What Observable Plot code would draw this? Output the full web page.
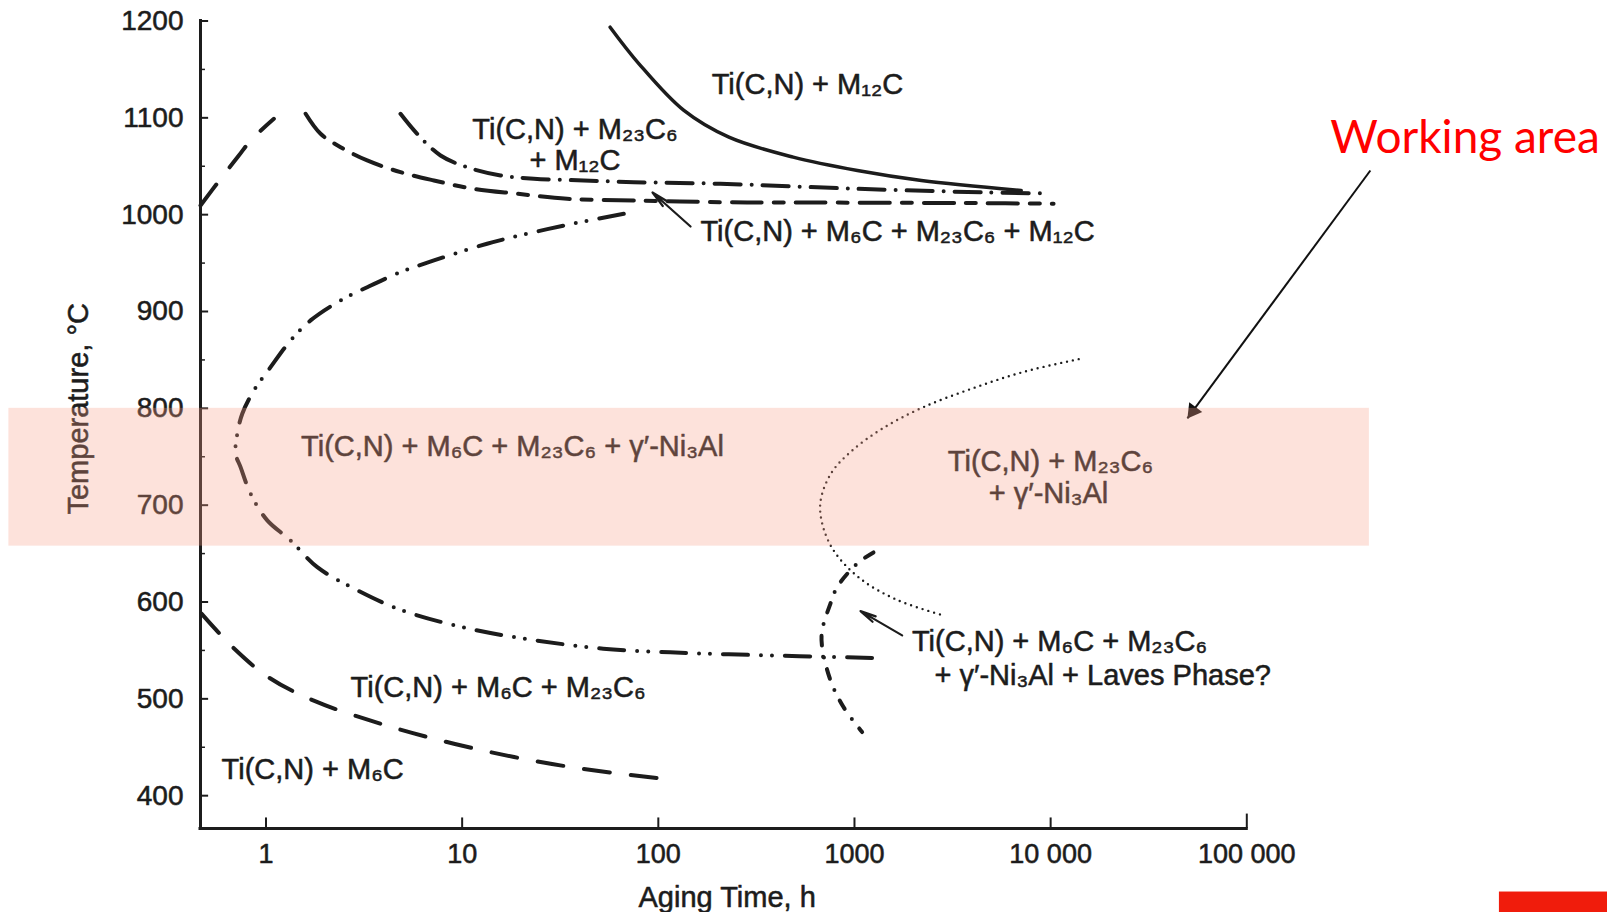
<!DOCTYPE html>
<html>
<head>
<meta charset="utf-8">
<script src="https://cdn.jsdelivr.net/npm/d3@7"></script>
<script src="https://cdn.jsdelivr.net/npm/@observablehq/plot@0.6"></script>
<style>
html, body { margin: 0; padding: 0; background: #fff; }
#chart svg { display: block; }
</style>
</head>
<body>
<div id="chart"></div>
<script>
// ---------- axes ----------
const timeMin = 0.4636, timeMax = 100000;
const tempMin = 366, tempMax = 1200;
const yTicks = [400, 500, 600, 700, 800, 900, 1000, 1100, 1200];
const yMinorTicks = [450, 550, 650, 750, 850, 950, 1050, 1150];
const xTicks = [1, 10, 100, 1000, 10000, 100000];
const xTickLabels = ["1", "10", "100", "1000", "10 000", "100 000"];

// ---------- phase boundary curves (aging time h, temperature °C) ----------
const m12cTime = [56.8, 79.7, 135, 229, 487, 1035, 2193, 7080];
const m12cTemp = [1193.6, 1155.8, 1107.6, 1080, 1059.4, 1045.6, 1035.3, 1025];

const m23c6UpperTime = [4.85, 5.90, 7.76, 10.6, 15.7, 23.2, 41.7, 75, 207, 1035, 4640, 9190];
const m23c6UpperTemp = [1104.2, 1083.5, 1061.1, 1049, 1040.5, 1037.1, 1035.3, 1033.6, 1031.9, 1026.7, 1023, 1022];

const m6cUpperTime = [1.592, 1.898, 2.40, 3.28, 4.85, 7.18, 11.47, 19.1, 34.3, 75, 207, 487, 4640, 10350];
const m6cUpperTemp = [1104.2, 1083.5, 1069.7, 1056, 1043.9, 1035.3, 1026.7, 1021.6, 1016.4, 1014.7, 1012.9, 1012.6, 1011.9, 1011.3];

const m6cLeftTime = [0.4636, 0.587, 0.727, 0.835, 1.097];
const m6cLeftTemp = [1009.5, 1037, 1061, 1076.6, 1099];

const gammaTime = [66.7, 40.1, 23.2, 13.4, 7.18, 4.85, 3.28, 2.40, 1.688, 1.335, 1.055, 0.868, 0.757, 0.714, 0.700, 0.742, 0.835, 1.015, 1.335, 1.826, 2.93, 4.96, 10.9, 23.9, 52.4, 115, 229, 1400];
const gammaTemp = [1000.9, 992.3, 981.9, 970, 952.7, 940.6, 925.1, 911.4, 890.8, 870.1, 842.5, 818.5, 794.4, 773.8, 753.1, 739.3, 711.8, 684.3, 663.6, 636, 612, 591.3, 572.4, 560.3, 551.8, 548, 546, 542];

const m23c6LowerTime = [0.469, 0.676, 1.03, 1.74, 3.82, 8.37, 18.4, 40.3, 121];
const m23c6LowerTemp = [588, 553.4, 522.3, 498.4, 474.4, 455.4, 439.9, 428, 416];

const lavesTime = [1250, 1032, 816, 755, 684, 684, 755, 879, 1094];
const lavesTemp = [651.2, 639.6, 615.4, 598.6, 570.7, 553.4, 519, 491.5, 465.7];

const solvusTime = [13900, 7430, 4075, 2233, 1380, 961, 757, 670, 695, 804, 1084, 1652, 2838];
const solvusTemp = [850.8, 838.1, 821.2, 801, 778.8, 755.5, 732.3, 702.6, 676.2, 649.8, 623.3, 602.1, 586.2];

// ---------- region labels ----------
const centerLabelText = ["Ti(C,N) + M₁₂C", "Ti(C,N) + M₂₃C₆", "+ M₁₂C", "Ti(C,N) + M₂₃C₆", "+ γ′-Ni₃Al"];
const centerLabelTime = [576, 37.6, 37.6, 9980, 9750];
const centerLabelTemp = [1134.4, 1087.5, 1056, 745.2, 712];

const startLabelText = [
  "Ti(C,N) + M₆C + M₂₃C₆ + M₁₂C",
  "Ti(C,N) + M₆C + M₂₃C₆ + γ′-Ni₃Al",
  "Ti(C,N) + M₆C + M₂₃C₆",
  "+ γ′-Ni₃Al + Laves Phase?",
  "Ti(C,N) + M₆C + M₂₃C₆",
  "Ti(C,N) + M₆C"
];
const startLabelTime = [164, 1.51, 1964, 2558, 2.70, 0.594];
const startLabelTemp = [982, 760.7, 559.3, 524.2, 511.3, 427];

// pointer arrows from labels to boundaries
const pointerTimeFrom = [146, 1750];
const pointerTempFrom = [987.8, 565.5];
const pointerTimeTo = [93.4, 1073];
const pointerTempTo = [1022.9, 590.6];

// working area annotation
const bandTime = [0.0489, 421700];
const bandTemp = [657.7, 800];
const workText = "Working area";
const workTextTime = 266700, workTextTemp = 1063.2;
const workArrowTime = [426500, 49800];
const workArrowTemp = [1045.6, 789.6];
const cornerMarkTime = [1.94e6, 1e7];
const cornerMarkTemp = [250, 300.5];

// ---------- build ----------
const W = 1607, H = 912;
const margin = {left: 200, right: W - 1246.3, top: 20.5, bottom: H - 828.1};
const pts = (ts, Ts) => ts.map((t, i) => ({t, T: Ts[i]}));
const ink = "#1c1c1c";
const font = "'Liberation Sans', Arial, sans-serif";
const textInk = {fill: ink, stroke: ink, strokeWidth: 0.55};

// filled arrowhead for the working-area arrow (angle in screen space)
const sx = d3.scaleLog([timeMin, timeMax], [margin.left, W - margin.right]);
const sy = d3.scaleLinear([tempMin, tempMax], [H - margin.bottom, margin.top]);
const ax1 = sx(workArrowTime[0]), ay1 = sy(workArrowTemp[0]);
const ax2 = sx(workArrowTime[1]), ay2 = sy(workArrowTemp[1]);
const ang = Math.atan2(ay2 - ay1, ax2 - ax1);
const headR = 6;
const tipDist = 2 * Math.sqrt(headR * headR * Math.PI / (3 * Math.sqrt(3)));

const curveStyle = {x: "t", y: "T", curve: "catmull-rom", stroke: ink, strokeLinecap: "round", strokeWidth: 4};

const plot = Plot.plot({
  width: W,
  height: H,
  marginLeft: margin.left,
  marginRight: margin.right,
  marginTop: margin.top,
  marginBottom: margin.bottom,
  style: {fontFamily: font, background: "#fff", overflow: "hidden"},
  x: {type: "log", domain: [timeMin, timeMax], axis: null},
  y: {type: "linear", domain: [tempMin, tempMax], axis: null},
  marks: [
    // axes
    Plot.ruleX([timeMin], {y1: tempMin, y2: tempMax, stroke: ink, strokeWidth: 3, strokeLinecap: "square"}),
    Plot.ruleY([tempMin], {x1: timeMin, x2: timeMax, stroke: ink, strokeWidth: 3, strokeLinecap: "square"}),
    Plot.ruleY(yTicks, {y: d => d, x1: timeMin, x2: timeMin * 1.1, stroke: ink, strokeWidth: 2}),
    Plot.ruleY(yMinorTicks, {y: d => d, x1: timeMin, x2: timeMin * 1.06, stroke: ink, strokeWidth: 1.5}),
    Plot.ruleX(xTicks, {x: d => d, y1: tempMin, y2: d => d === timeMax ? tempMin + 15 : tempMin + 11, stroke: ink, strokeWidth: 2}),
    Plot.text(yTicks, {x: timeMin, y: d => d, text: d => String(d), textAnchor: "end", dx: -17, fontSize: 28, ...textInk}),
    Plot.text(xTicks, {x: d => d, y: tempMin, text: (d, i) => xTickLabels[i], lineAnchor: "top", dy: 15, fontSize: 27, ...textInk}),
    Plot.text(["Temperature, °C"], {frameAnchor: "left", text: d => d, rotate: -90, textAnchor: "middle", lineAnchor: "middle", dx: -122, dy: -16, fontSize: 29, ...textInk}),
    Plot.text(["Aging Time, h"], {frameAnchor: "bottom", text: d => d, textAnchor: "middle", lineAnchor: "middle", dx: 3.5, dy: 69, fontSize: 29, ...textInk}),

    // boundaries
    Plot.line(pts(m12cTime, m12cTemp), {...curveStyle, strokeWidth: 3.5}),
    Plot.line(pts(m23c6UpperTime, m23c6UpperTemp), {...curveStyle, strokeDasharray: "26,11,0,11"}),
    Plot.line(pts(m6cUpperTime, m6cUpperTemp), {...curveStyle, strokeDasharray: "30,12,10,12"}),
    Plot.line(pts(m6cLeftTime, m6cLeftTemp), {...curveStyle, strokeDasharray: "26,22"}),
    Plot.line(pts(gammaTime, gammaTemp), {...curveStyle, strokeDasharray: "25,13,0,11,0,13"}),
    Plot.line(pts(m23c6LowerTime, m23c6LowerTemp), {...curveStyle, strokeDasharray: "26,21"}),
    Plot.line(pts(lavesTime, lavesTemp), {...curveStyle, strokeDasharray: "10,12,0,12"}),
    Plot.line(pts(solvusTime, solvusTemp), {...curveStyle, strokeWidth: 2.4, strokeDasharray: "0,6"}),

    // labels
    Plot.text(centerLabelText, {x: (d, i) => centerLabelTime[i], y: (d, i) => centerLabelTemp[i], text: d => d, textAnchor: "middle", fontSize: 29, ...textInk}),
    Plot.text(startLabelText, {x: (d, i) => startLabelTime[i], y: (d, i) => startLabelTemp[i], text: d => d, textAnchor: "start", fontSize: 29, ...textInk}),
    Plot.arrow(pointerTimeFrom, {x1: d => d, y1: (d, i) => pointerTempFrom[i], x2: (d, i) => pointerTimeTo[i], y2: (d, i) => pointerTempTo[i], stroke: ink, strokeWidth: 2.2, headAngle: 22, headLength: 15}),

    // working area arrow (under the band)
    Plot.link([0], {x1: workArrowTime[0], y1: workArrowTemp[0], x2: workArrowTime[1], y2: workArrowTemp[1], stroke: "#111", strokeWidth: 2}),
    Plot.dot([0], {x: workArrowTime[1], y: workArrowTemp[1], symbol: "triangle", r: headR, fill: "#111", stroke: "none",
      rotate: ang * 180 / Math.PI + 90, dx: -Math.cos(ang) * tipDist, dy: -Math.sin(ang) * tipDist}),

    // working area band on top
    Plot.rect([0], {x1: bandTime[0], x2: bandTime[1], y1: bandTemp[0], y2: bandTemp[1], fill: "rgb(248,160,135)", fillOpacity: 0.3}),

    Plot.text([workText], {x: workTextTime, y: workTextTemp, text: d => d, textAnchor: "start", lineAnchor: "bottom", fontSize: 46, fill: "#ff0000", fontFamily: "Lato, 'Open Sans', sans-serif"}),
    Plot.rect([0], {x1: cornerMarkTime[0], x2: cornerMarkTime[1], y1: cornerMarkTemp[0], y2: cornerMarkTemp[1], fill: "#f01c0c"})
  ]
});
document.getElementById("chart").append(plot);
</script>
</body>
</html>
